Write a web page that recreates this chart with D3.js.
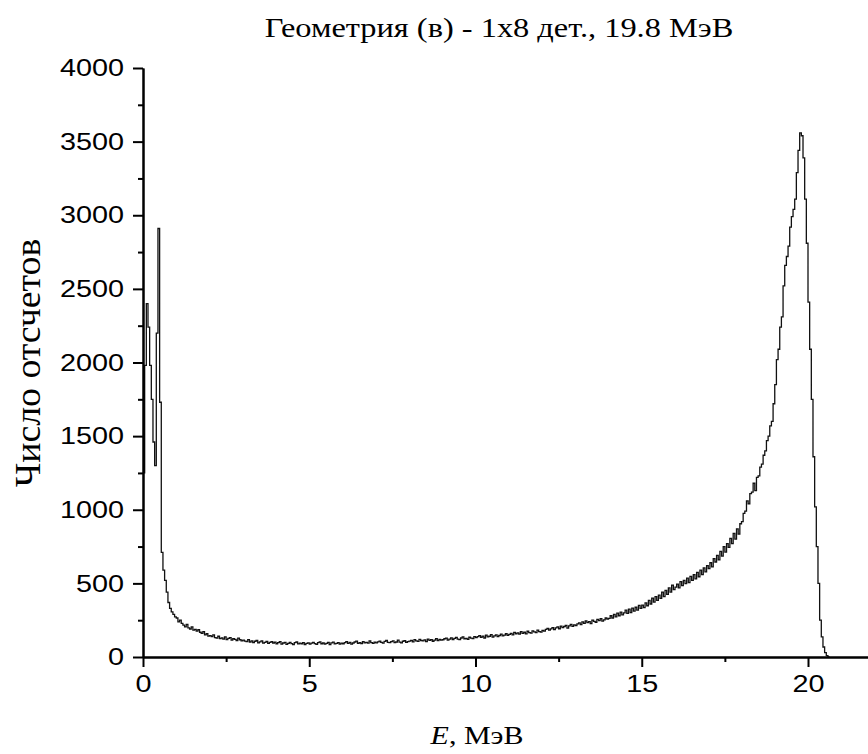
<!DOCTYPE html>
<html>
<head>
<meta charset="utf-8">
<script src="https://cdnjs.cloudflare.com/ajax/libs/d3/7.8.5/d3.min.js"></script>
<style>
    body { margin: 0; background: #fff; }
    .axis text { font-family: "Liberation Sans", Arial, sans-serif; font-size: 24px; fill: #000; }
    .axis path, .axis line { stroke: #000; stroke-width: 2px; }
    .label { font-family: "Liberation Serif", "Times New Roman", serif; fill: #000; }
</style>
</head>
<body>
<div class="graph"></div>
<script>
// Chart text
const titleText = "Геометрия (в) - 1x8 дет., 19.8 МэВ";
const yLabelText = "Число отсчетов";
const xLabelUnit = ", МэВ";

// Tick values
const xTicks = [0, 5, 10, 15, 20];
const xMinorTicks = [2.5, 7.5, 12.5, 17.5];
const yTicks = [0, 500, 1000, 1500, 2000, 2500, 3000, 3500, 4000];
const yMinorTicks = [250, 750, 1250, 1750, 2250, 2750, 3250, 3750];

// Histogram: bins of 0.05 MeV starting at 0 MeV
const binStart = 0;
const binWidth = 0.05;
const counts = [
    // 0 - 1 MeV
    1250, 1980, 2400, 2240, 1980, 1750, 1460, 1300, 2200, 2910, 1730, 710, 590, 520, 440, 370, 330, 306, 290, 272,
    // 1 - 2
    265, 238, 250, 228, 217, 205, 222, 198, 190, 205, 182, 188, 176, 185, 168, 160, 172, 150, 158, 142,
    // 2 - 3
    145, 138, 150, 132, 128, 141, 125, 130, 122, 136, 118, 127, 132, 115, 124, 120, 112, 128, 117, 110,
    // 3 - 4
    115, 108, 104, 118, 102, 110, 98, 107, 112, 96, 103, 109, 94, 100, 106, 92, 99, 105, 95, 101,
    // 4 - 5
    90, 98, 104, 88, 95, 100, 86, 93, 99, 91, 84, 97, 102, 89, 94, 90, 98, 85, 92, 96,
    // 5 - 6
    88, 94, 100, 91, 86, 97, 103, 90, 95, 87, 92, 99, 84, 96, 101, 89, 93, 98, 87, 94,
    // 6 - 7
    90, 97, 104, 92, 99, 88, 95, 102, 108, 93, 98, 91, 105, 96, 100, 94, 110, 97, 92, 101,
    // 7 - 8
    96, 103, 108, 99, 94, 106, 112, 100, 97, 104, 109, 98, 102, 115, 101, 96, 107, 111, 99, 104,
    // 8 - 9
    108, 113, 103, 118, 110, 106, 120, 112, 109, 116, 104, 122, 113, 118, 107, 115, 125, 111, 119, 114,
    // 9 - 10
    117, 124, 128, 115, 121, 130, 119, 126, 133, 122, 118, 129, 136, 124, 127, 120, 134, 128, 125, 139,
    // 10 - 11
    131, 138, 145, 134, 142, 129, 148, 137, 141, 152, 135, 144, 150, 139, 146, 155, 143, 149, 158, 147,
    // 11 - 12
    153, 160, 150, 167, 158, 164, 155, 172, 161, 168, 157, 175, 165, 162, 178, 170, 166, 182, 173, 169,
    // 12 - 13
    180, 176, 188, 195, 183, 191, 200, 186, 198, 205, 192, 210, 199, 207, 215, 196, 212, 222, 208, 218,
    // 13 - 14
    214, 225, 232, 220, 238, 228, 245, 233, 240, 226, 250, 242, 236, 255, 247, 260, 244, 252, 265, 258,
    // 14 - 15
    262, 280, 265, 290, 272, 298, 280, 305, 286, 300, 318, 296, 325, 302, 332, 312, 338, 318, 350, 330,
    // 15 - 16
    352, 335, 368, 348, 385, 360, 400, 372, 410, 385, 420, 398, 440, 410, 452, 425, 470, 440, 488, 458,
    // 16 - 17
    475, 495, 470, 512, 485, 520, 498, 535, 505, 548, 520, 560, 530, 575, 545, 590, 560, 605, 578, 620,
    // 17 - 18
    600, 640, 612, 668, 645, 690, 660, 718, 685, 750, 712, 770, 745, 805, 770, 840, 800, 870, 835, 905,
    // 18 - 19
    920, 975, 990, 1060, 1040, 1110, 1120, 1180, 1130, 1220, 1230, 1290, 1310, 1370, 1400, 1470, 1500, 1570, 1600, 1720,
    // 19 - 20
    1850, 2020, 2090, 2240, 2310, 2520, 2660, 2720, 2790, 2920, 2990, 3040, 3110, 3290, 3440, 3560, 3540, 3390, 3110, 2810,
    // 20 - 20.65
    2410, 2090, 1750, 1360, 1020, 750, 500, 250, 136, 68, 30, 10, 0
];

const dimensions = {
    width: 868,
    height: 754,
    xDomain: [0, 22],
    yDomain: [0, 4000],
    margins: { top: 68, left: 143, bottom: 97, right: -6.5 },
    // the original picture is stretched sideways, so text is too
    stretch: 1.2
};

const wrapper = d3.select(".graph")
    .append("svg")
        .attr("width", dimensions.width)
        .attr("height", dimensions.height);

const xScale = d3.scaleLinear()
    .domain(dimensions.xDomain)
    .range([dimensions.margins.left, dimensions.width - dimensions.margins.right]);

const yScale = d3.scaleLinear()
    .domain(dimensions.yDomain)
    .range([dimensions.height - dimensions.margins.bottom, dimensions.margins.top]);

// Histogram as a step line
const points = counts.map((c, i) => [binStart + i * binWidth, c]);
points.push([binStart + counts.length * binWidth, 0]);

const lineGenerator = d3.line()
    .x(d => xScale(d[0]))
    .y(d => yScale(d[1]))
    .curve(d3.curveStepAfter);

wrapper.append("path")
    .attr("d", lineGenerator(points))
    .attr("fill", "none")
    .attr("stroke", "#111")
    .attr("stroke-width", 1.3);

// Axes (major + minor ticks)
wrapper.append("g")
    .attr("class", "axis")
    .attr("transform", `translate(${dimensions.margins.left},0)`)
    .call(d3.axisLeft(yScale).tickValues(yMinorTicks).tickSize(5).tickSizeOuter(0).tickFormat(""));

const yAxis = wrapper.append("g")
    .attr("class", "axis")
    .attr("transform", `translate(${dimensions.margins.left},0)`)
    .call(d3.axisLeft(yScale).tickValues(yTicks).tickSize(10).tickPadding(9).tickSizeOuter(0).tickFormat(d3.format("d")));

wrapper.append("g")
    .attr("class", "axis")
    .attr("transform", `translate(0,${yScale(0)})`)
    .call(d3.axisBottom(xScale).tickValues(xMinorTicks).tickSize(5).tickSizeOuter(0).tickFormat(""));

const xAxis = wrapper.append("g")
    .attr("class", "axis")
    .attr("transform", `translate(0,${yScale(0)})`)
    .call(d3.axisBottom(xScale).tickValues(xTicks).tickSize(10).tickPadding(8).tickSizeOuter(0).tickFormat(d3.format("d")));

// stretch tick labels sideways around their anchor
yAxis.selectAll(".tick text")
    .attr("transform", `translate(-19,0) scale(${dimensions.stretch},1) translate(19,0)`);
xAxis.selectAll(".tick text")
    .attr("transform", `scale(${dimensions.stretch},1)`);

// Labels
wrapper.append("text")
    .attr("class", "label")
    .attr("font-size", 27)
    .attr("text-anchor", "middle")
    .attr("transform", `translate(499,37) scale(${dimensions.stretch},1)`)
    .text(titleText);

wrapper.append("text")
    .attr("class", "label")
    .attr("font-size", 36)
    .attr("text-anchor", "middle")
    .attr("transform", "translate(40,363) rotate(-90) scale(1.05,1)")
    .text(yLabelText);

const xLabel = wrapper.append("text")
    .attr("class", "label")
    .attr("font-size", 25)
    .attr("text-anchor", "middle")
    .attr("transform", `translate(477,744) scale(${dimensions.stretch},1)`);
xLabel.append("tspan").attr("font-style", "italic").text("E");
xLabel.append("tspan").text(xLabelUnit);
</script>
</body>
</html>
